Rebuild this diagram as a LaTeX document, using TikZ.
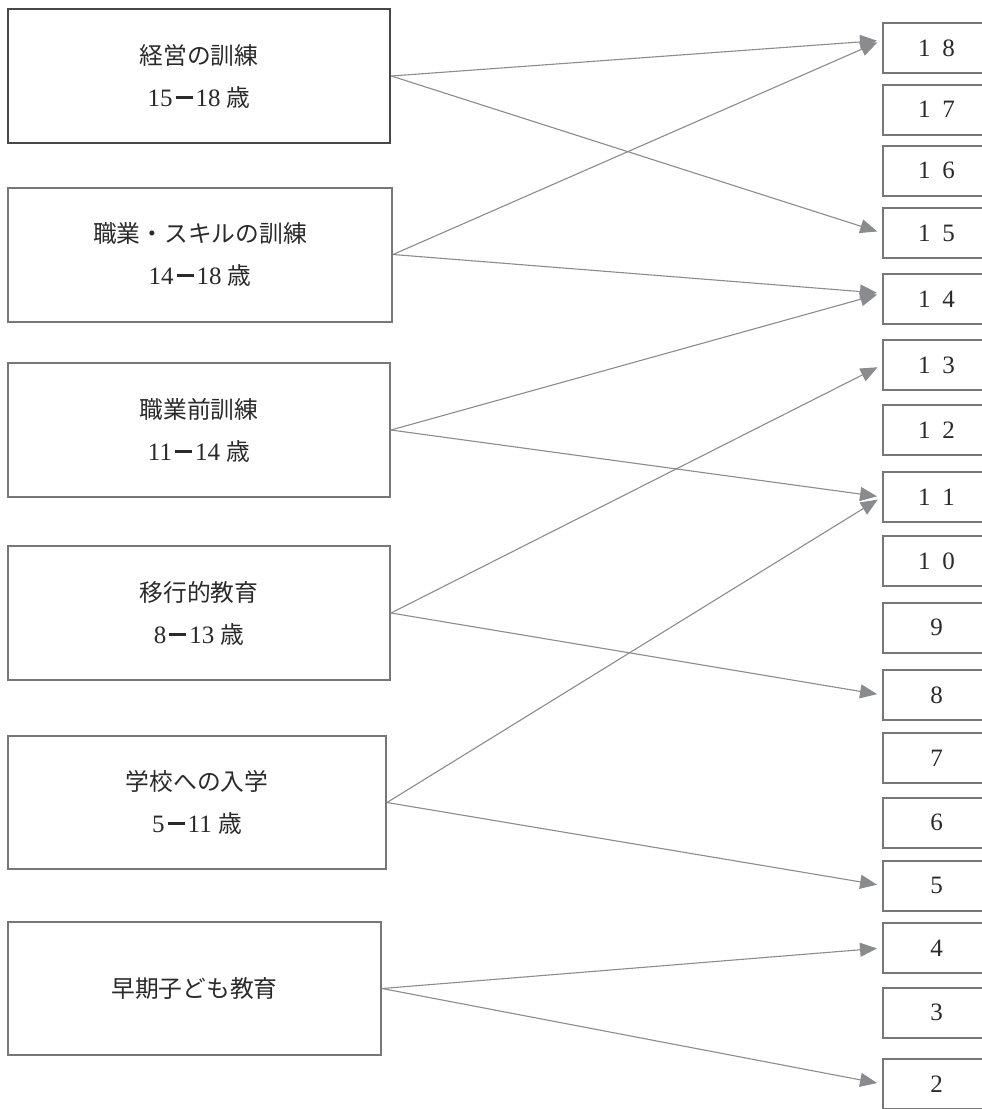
\documentclass[tikz,border=0pt]{standalone}
\usepackage{fontspec}
\setmainfont{Liberation Serif}
\newfontfamily\jp{Noto Sans CJK JP}[Scale=0.95]
\usetikzlibrary{arrows.meta}
\definecolor{boxc}{HTML}{777777}
\definecolor{linec}{HTML}{8C8C8C}
\definecolor{headc}{HTML}{8A8B8E}
\definecolor{txt}{HTML}{2A2A2A}
\newcommand\dd[2]{\makebox[24.5pt]{#1}\makebox[24.5pt]{#2}}
\newcommand\dsh{\hspace{3pt}\rule[7.5pt]{17pt}{2.8pt}\hspace{3pt}}
\begin{document}
\begin{tikzpicture}[x=1pt,y=-1pt,
  lbox/.style={draw=boxc, line width=2pt, fill=white, text=txt, align=center,
    inner sep=0pt, font=\fontsize{25}{42}\selectfont},
  rbox/.style={draw=boxc, line width=2pt, fill=white, text=txt, inner sep=0pt,
    minimum width=107pt, minimum height=50pt, font=\fontsize{25}{28}\selectfont},
  conn/.style={draw=linec, line width=1.1pt,
    -{Triangle[length=17pt,width=14pt,fill=headc,color=headc]}, shorten >=5pt}]
\useasboundingbox (0,0) rectangle (982,1109);
\fill[white] (0,0) rectangle (982,1109);

% left boxes
\node[lbox, draw=black!72, line width=2.6pt, minimum width=382pt, minimum height=134pt] (a) at (199,76)
  {{\jp 経営の訓練}\\15\dsh18 {\jp 歳}};
\node[lbox, minimum width=384pt, minimum height=134pt] (b) at (200,254.5)
  {{\jp 職業・スキルの訓練}\\14\dsh18 {\jp 歳}};
\node[lbox, minimum width=382pt, minimum height=134pt] (c) at (199,430)
  {{\jp 職業前訓練}\\11\dsh14 {\jp 歳}};
\node[lbox, minimum width=382pt, minimum height=134pt] (d) at (199,613)
  {{\jp 移行的教育}\\8\dsh13 {\jp 歳}};
\node[lbox, minimum width=378pt, minimum height=133pt] (e) at (197,802.5)
  {{\jp 学校への入学}\\5\dsh11 {\jp 歳}};
\node[lbox, minimum width=373pt, minimum height=133pt] (f) at (194.5,988.5)
  {{\jp 早期子ども教育}};

% right boxes
\node[rbox] (r18) at (936.5,48) {\dd{1}{8}};
\node[rbox] (r17) at (936.5,109.5) {\dd{1}{7}};
\node[rbox] (r16) at (936.5,170.5) {\dd{1}{6}};
\node[rbox] (r15) at (936.5,233) {\dd{1}{5}};
\node[rbox] (r14) at (936.5,299) {\dd{1}{4}};
\node[rbox] (r13) at (936.5,365) {\dd{1}{3}};
\node[rbox] (r12) at (936.5,430) {\dd{1}{2}};
\node[rbox] (r11) at (936.5,497) {\dd{1}{1}};
\node[rbox] (r10) at (936.5,561) {\dd{1}{0}};
\node[rbox] (r9) at (936.5,627.5) {9};
\node[rbox] (r8) at (936.5,695) {8};
\node[rbox] (r7) at (936.5,758) {7};
\node[rbox] (r6) at (936.5,822.5) {6};
\node[rbox] (r5) at (936.5,885.5) {5};
\node[rbox] (r4) at (936.5,948) {4};
\node[rbox] (r3) at (936.5,1012.5) {3};
\node[rbox] (r2) at (936.5,1084) {2};

% connectors
\draw[conn] (a.east) -- (r18.172);
\draw[conn] (a.east) -- (r15.west);
\draw[conn] (b.east) -- (r18.172);
\draw[conn] (b.east) -- (r14.174);
\draw[conn] (c.east) -- (r14.174);
\draw[conn] (c.east) -- (r11.west);
\draw[conn] (d.east) -- (r13.west);
\draw[conn] (d.east) -- (r8.west);
\draw[conn] (e.east) -- (r11.west);
\draw[conn] (e.east) -- (r5.west);
\draw[conn] (f.east) -- (r4.west);
\draw[conn] (f.east) -- (r2.west);
\end{tikzpicture}
\end{document}
